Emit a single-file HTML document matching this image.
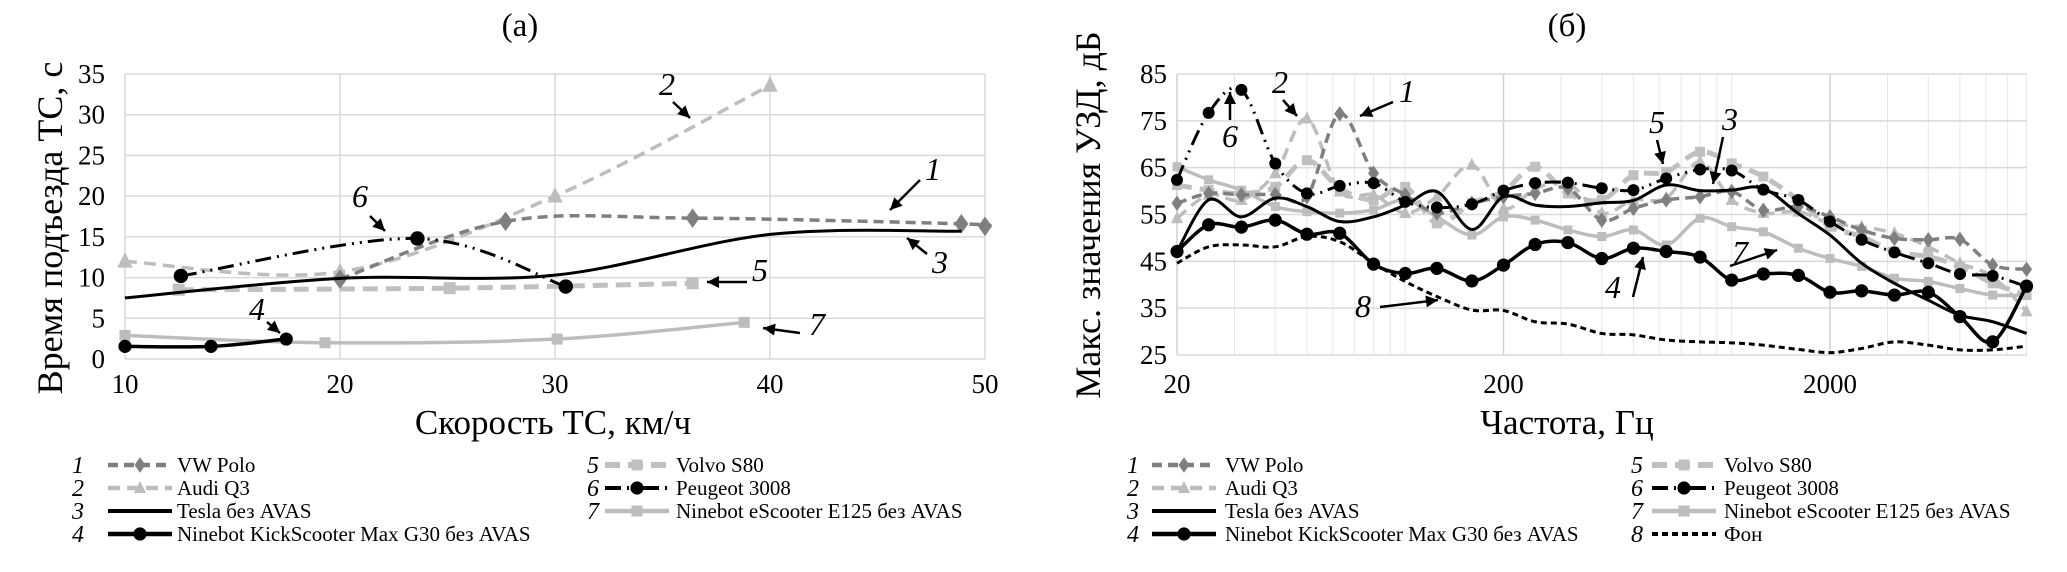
<!DOCTYPE html>
<html><head><meta charset="utf-8">
<style>
html,body{margin:0;padding:0;background:#fff;}
svg{display:block;font-family:"Liberation Serif",serif;}
</style></head>
<body>
<svg id="chart" width="2067" height="572" viewBox="0 0 2067 572" xmlns="http://www.w3.org/2000/svg">
<g id="pa"></g>
<g id="pb"></g>
<g id="leg"></g>
</svg>
<script>
// ---- Panel (a) data ----
const aXTicks = [10, 20, 30, 40, 50];
const aYTicks = [0, 5, 10, 15, 20, 25, 30, 35];
const aS1x = [20, 27.7, 36.4, 48.9, 50];
const aS1y = [9.8, 16.9, 17.3, 16.6, 16.3];
const aS2x = [10, 20, 30, 40];
const aS2y = [12, 10.7, 20, 33.6];
const aS3x = [10, 20, 30, 40, 48.9];
const aS3y = [7.5, 9.9, 10.3, 15.3, 15.7];
const aS4x = [10, 14, 17.5];
const aS4y = [1.55, 1.55, 2.45];
const aS5x = [12.5, 25.1, 36.4];
const aS5y = [8.5, 8.7, 9.3];
const aS6x = [12.6, 23.6, 30.5];
const aS6y = [10.2, 14.8, 8.9];
const aS7x = [10, 19.3, 30.1, 38.8];
const aS7y = [2.9, 2.0, 2.45, 4.5];
// ---- Panel (b) data ----
const bFreq = [20,25,31.5,40,50,63,80,100,125,160,200,250,315,400,500,630,800,1000,1250,1600,2000,2500,3150,4000,5000,6300,8000];
const bXTicks = [20, 200, 2000];
const bYTicks = [25, 35, 45, 55, 65, 75, 85];
const bS1 = [57.4,59.5,59.2,59.3,58.8,76.5,63.8,59.2,55.3,57.4,58.8,59.5,60.6,53.8,56.3,58.1,58.8,59.9,55.9,56.7,54.5,51.7,49.9,49.6,49.7,44.2,43.3];
const bS2 = [54.2,59.2,58.1,63.8,75.5,59.9,59.2,55.3,58.8,65.6,56.3,60.5,61.7,55.3,58.1,58.5,66.3,58.1,55.3,55.6,53.1,52.4,51.0,48.1,44.6,41.7,34.3];
const bS3 = [47.1,58.1,54.5,58.5,56.7,53.5,54.5,57.0,59.9,51.8,58.8,57.0,56.7,57.5,58.0,61.3,60.1,60.2,60.6,55.2,50.6,44.6,40.3,36.7,33.5,32.1,29.6];
const bS4 = [47.1,52.8,52.3,53.8,50.8,51.0,44.4,42.4,43.5,40.8,44.2,48.6,49.0,45.6,47.8,47.1,45.9,41.0,42.3,42.0,38.4,38.7,37.8,38.4,33.2,27.8,39.7];
const bS5 = [61.3,60.2,59.5,60.9,66.6,60.6,58.1,60.9,53.1,57.4,59.9,65.2,59.5,58.1,63.4,64.1,68.4,65.9,63.1,58.1,52.4,50.3,47.1,46.0,43.9,40.3,37.8];
const bS6 = [62.4,76.7,81.6,65.9,59.5,61.1,61.7,57.7,56.5,57.2,60.1,61.7,61.8,60.6,60.2,62.7,64.6,64.4,60.3,58.1,53.5,49.6,46.9,44.6,42.3,41.9,39.6];
const bS7 = [65.2,62.4,60.2,56.7,55.6,55.3,56.0,58.1,54.5,50.6,54.5,53.8,51.7,50.3,51.7,48.5,54.2,52.4,51.3,47.8,45.6,43.9,41.4,40.7,39.2,37.8,37.8];
const bS8 = [44.6,48.1,48.5,48.1,50.3,49.2,44.6,40.7,37.5,34.6,34.5,32.1,31.6,29.6,29.3,28.2,27.8,27.6,27.1,26.2,25.5,26.4,27.8,27.1,26.1,26.1,26.9];
const legendNames = ["VW Polo","Audi Q3","Tesla без AVAS","Ninebot KickScooter Max G30 без AVAS","Volvo S80","Peugeot 3008","Ninebot eScooter E125 без AVAS","Фон"];

const NS = "http://www.w3.org/2000/svg";
function mk(parent, tag, attrs, text){
  const e = document.createElementNS(NS, tag);
  for (const k in attrs) e.setAttribute(k, attrs[k]);
  if (text !== undefined) e.textContent = text;
  parent.appendChild(e);
  return e;
}
const styles = {
  1:{stroke:"#7f7f7f", w:3.5, dash:"10,6", marker:"diamond", mfill:"#7f7f7f"},
  2:{stroke:"#bdbdbd", w:3.5, dash:"12,7", marker:"triangle", mfill:"#bdbdbd"},
  3:{stroke:"#000", w:3, dash:"", marker:null},
  4:{stroke:"#000", w:3.5, dash:"", marker:"circle", mfill:"#000"},
  5:{stroke:"#c0c0c0", w:5, dash:"15,8", marker:"square", mfill:"#c0c0c0"},
  6:{stroke:"#000", w:3, dash:"16,6,2,6,2,6", marker:"circle", mfill:"#000"},
  7:{stroke:"#bdbdbd", w:3.5, dash:"", marker:"square", mfill:"#bdbdbd"},
  8:{stroke:"#000", w:3, dash:"6,4", marker:null}
};
function smoothPath(pts){
  let d = "M" + pts[0][0] + "," + pts[0][1];
  for (let i=0;i<pts.length-1;i++){
    const p0 = pts[Math.max(0,i-1)], p1 = pts[i], p2 = pts[i+1], p3 = pts[Math.min(pts.length-1,i+2)];
    const t = 1/6;
    const c1 = [p1[0]+(p2[0]-p0[0])*t, p1[1]+(p2[1]-p0[1])*t];
    const c2 = [p2[0]-(p3[0]-p1[0])*t, p2[1]-(p3[1]-p1[1])*t];
    d += " C"+c1[0]+","+c1[1]+" "+c2[0]+","+c2[1]+" "+p2[0]+","+p2[1];
  }
  return d;
}
function marker(g, type, x, y, fill, s){
  let e;
  if (type==="circle") e = mk(g,"circle",{cx:x,cy:y,r:s*0.6,fill:fill});
  else if (type==="square") e = mk(g,"rect",{x:x-s/2,y:y-s/2,width:s,height:s,fill:fill});
  else if (type==="diamond") e = mk(g,"polygon",{points:`${x},${y-s*0.7} ${x+s*0.5},${y} ${x},${y+s*0.7} ${x-s*0.5},${y}`,fill:fill});
  else if (type==="triangle") e = mk(g,"polygon",{points:`${x},${y-s*0.65} ${x+s*0.55},${y+s*0.45} ${x-s*0.55},${y+s*0.45}`,fill:fill});
  if (e){
    
    
  }
}
function series(g, pts, id, ms){
  const st = styles[id];
  const p = mk(g,"path",{d:smoothPath(pts),fill:"none",stroke:st.stroke,"stroke-width":st.w,"stroke-dasharray":st.dash,"stroke-linejoin":"round"});
  
  
  if (st.marker) pts.forEach(q=>marker(g,st.marker,q[0],q[1],st.mfill,ms));
}
function arrow(g, x1,y1,x2,y2){
  const a = mk(g,"line",{x1:x1,y1:y1,x2:x2,y2:y2,stroke:"#000","stroke-width":2.5});
  
  
  const ang = Math.atan2(y2-y1,x2-x1), L=12, W=6;
  const bx = x2 - L*Math.cos(ang), by = y2 - L*Math.sin(ang);
  const h = mk(g,"polygon",{points:`${x2},${y2} ${bx+W*Math.sin(ang)},${by-W*Math.cos(ang)} ${bx-W*Math.sin(ang)},${by+W*Math.cos(ang)}`,fill:"#000"});
  
  
}
function label(g, x, y, t){
  const e = mk(g,"text",{x:x,y:y,"font-size":32,"font-style":"italic","text-anchor":"middle"},t);
  
  
}

// ---------- Panel (a) ----------
(function(){
  const g = document.getElementById("pa");
  const L=125,R=985,T=74,B=359;
  const xs = v => L + (v-10)/40*(R-L);
  const ys = v => B - v/35*(B-T);
  const t = mk(g,"text",{x:520,y:36,"font-size":33,"text-anchor":"middle"},"(a)");
   
  aYTicks.forEach(v=>{
    const l = mk(g,"line",{x1:L,x2:R,y1:ys(v),y2:ys(v),stroke:"#d9d9d9","stroke-width":1.5});
     
    const tx = mk(g,"text",{x:L-20,y:ys(v)+9,"font-size":27,"text-anchor":"end"},v);
     
  });
  aXTicks.forEach(v=>{
    const l = mk(g,"line",{x1:xs(v),x2:xs(v),y1:T,y2:B,stroke:"#d9d9d9","stroke-width":1.5});
     
    const tx = mk(g,"text",{x:xs(v),y:393,"font-size":27,"text-anchor":"middle"},v);
     
  });
  const xt = mk(g,"text",{x:553,y:434,"font-size":35,"text-anchor":"middle"},"Скорость ТС, км/ч");
   
  const yt = mk(g,"text",{x:0,y:0,"font-size":36,"text-anchor":"middle","transform":"translate(62,228) rotate(-90)"},"Время подъезда ТС, с");
   
  const P = (xa,ya)=>xa.map((x,i)=>[xs(x),ys(ya[i])]);
  series(g,P(aS7x,aS7y),7,11);
  series(g,P(aS5x,aS5y),5,12);
  series(g,P(aS2x,aS2y),2,14);
  series(g,P(aS1x,aS1y),1,14);
  series(g,P(aS3x,aS3y),3,0);
  series(g,P(aS6x,aS6y),6,12);
  series(g,P(aS4x,aS4y),4,11);
  label(g,667,95,"2"); arrow(g,673,102,690,118);
  label(g,933,180,"1"); arrow(g,920,180,890,210);
  label(g,360,207,"6"); arrow(g,370,216,385,231);
  label(g,940,273,"3"); arrow(g,927,254,907,238);
  label(g,760,281,"5"); arrow(g,747,282,707,282);
  label(g,257,320,"4"); arrow(g,267,322,280,333);
  label(g,817,335,"7"); arrow(g,800,333,763,328);
})();

// ---------- Panel (b) ----------
(function(){
  const g = document.getElementById("pb");
  const L=1177,R=2027,T=74,B=355;
  const dec = (1830-1177)/2;
  const xs = f => L + Math.log10(f/20)*dec;
  const ys = v => B - (v-25)/60*(B-T);
  const t = mk(g,"text",{x:1567,y:36,"font-size":33,"text-anchor":"middle"},"(б)");
   
  for (let d=10; d<=10000; d*=10){
    for (let m=1;m<10;m++){
      const f = d*m;
      if (f<20 || f>8000) continue;
      const major = bXTicks.indexOf(f)>=0;
      const l = mk(g,"line",{x1:xs(f),x2:xs(f),y1:T,y2:B,stroke:major?"#cfcfcf":"#e6e6e6","stroke-width":major?1.5:1});
       
    }
  }
  bYTicks.forEach(v=>{
    const l = mk(g,"line",{x1:L,x2:R,y1:ys(v),y2:ys(v),stroke:"#d9d9d9","stroke-width":1.5});
     
    const tx = mk(g,"text",{x:L-10,y:ys(v)+9,"font-size":27,"text-anchor":"end"},v);
     
  });
  bXTicks.forEach(v=>{
    const tx = mk(g,"text",{x:xs(v),y:393,"font-size":27,"text-anchor":"middle"},v);
     
  });
  const xt = mk(g,"text",{x:1567,y:434,"font-size":35,"text-anchor":"middle"},"Частота, Гц");
   
  const yt = mk(g,"text",{x:0,y:0,"font-size":36,"text-anchor":"middle","transform":"translate(1100,215) rotate(-90)"},"Макс. значения УЗД, дБ");
   
  const P = ya => bFreq.map((f,i)=>[xs(f),ys(ya[i])]);
  series(g,P(bS8),8,0);
  series(g,P(bS7),7,9);
  series(g,P(bS5),5,10);
  series(g,P(bS2),2,11);
  series(g,P(bS1),1,11);
  series(g,P(bS3),3,0);
  series(g,P(bS6),6,10);
  series(g,P(bS4),4,11);
  label(g,1230,147,"6"); arrow(g,1230,120,1230,92);
  label(g,1280,93,"2"); arrow(g,1283,100,1297,116);
  label(g,1407,102,"1"); arrow(g,1393,102,1360,116);
  label(g,1657,133,"5"); arrow(g,1657,140,1663,164);
  label(g,1730,130,"3"); arrow(g,1723,137,1713,184);
  label(g,1740,263,"7"); arrow(g,1730,266,1777,250);
  label(g,1613,298,"4"); arrow(g,1633,297,1643,257);
  label(g,1363,317,"8"); arrow(g,1380,307,1438,300);
})();

// ---------- Legends ----------
(function(){
  const g = document.getElementById("leg");
  const rows = [465,488,511,534];
  function entry(nx, sx, tx, y, id){
    const n = mk(g,"text",{x:nx,y:y+8,"font-size":24,"font-style":"italic","text-anchor":"middle"},String(id));
     
    const st = styles[id];
    const l = mk(g,"line",{x1:sx,x2:sx+64,y1:y,y2:y,stroke:st.stroke,"stroke-width":st.w+1,"stroke-dasharray":st.dash});
     
    if (st.marker) marker(g,st.marker,sx+32,y,st.mfill,11);
    const t = mk(g,"text",{x:tx,y:y+7,"font-size":21},legendNames[id-1]);
     
  }
  [1,2,3,4].forEach((id,i)=>entry(78,108,177,rows[i],id));
  [5,6,7].forEach((id,i)=>entry(593,605,676,rows[i],id));
  [1,2,3,4].forEach((id,i)=>entry(1133,1152,1225,rows[i],id));
  [5,6,7,8].forEach((id,i)=>entry(1637,1652,1724,rows[i],id));
})();
</script>
</body></html>
